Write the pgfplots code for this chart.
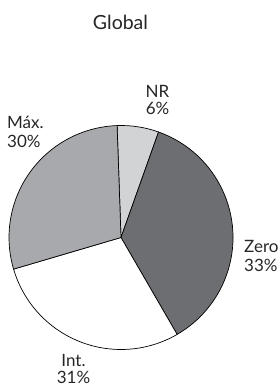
\documentclass[border=0pt]{standalone}
\usepackage{pgfplots}
\pgfplotsset{compat=1.18}
\usepackage{fontspec}
\setmainfont{Lato}
\definecolor{nrc}{HTML}{D1D3D4}
\definecolor{zeroc}{HTML}{6D6E71}
\definecolor{intc}{HTML}{FFFFFF}
\definecolor{maxc}{HTML}{A7A9AC}
% shares of the circle as drawn (%), labels as printed
\def\pNR{6.0}\def\pZero{36.2}\def\pInt{28.8}\def\pMax{29.0}
\pgfmathsetmacro\aA{92}
\pgfmathsetmacro\aB{\aA-3.6*\pNR}
\pgfmathsetmacro\aC{\aB-3.6*\pZero}
\pgfmathsetmacro\aD{\aC-3.6*\pInt}
\pgfmathsetmacro\aE{\aD-3.6*\pMax}
\begin{document}
\begin{tikzpicture}
\begin{axis}[name=ax, x=1pt, y=1pt, xmin=0, xmax=280, ymin=0, ymax=388,
  hide axis, scale only axis, clip=false]
\addplot[draw=none] coordinates {(121,150.5)};
\filldraw[fill=nrc, draw=black, line width=0.7pt, line join=round] (axis cs:121,150.5) -- ++(\aA:112pt) arc[start angle=\aA, end angle=\aB, radius=112pt] -- cycle;
\filldraw[fill=zeroc, draw=black, line width=0.7pt, line join=round] (axis cs:121,150.5) -- ++(\aB:112pt) arc[start angle=\aB, end angle=\aC, radius=112pt] -- cycle;
\filldraw[fill=intc, draw=black, line width=0.7pt, line join=round] (axis cs:121,150.5) -- ++(\aC:112pt) arc[start angle=\aC, end angle=\aD, radius=112pt] -- cycle;
\filldraw[fill=maxc, draw=black, line width=0.7pt, line join=round] (axis cs:121,150.5) -- ++(\aD:112pt) arc[start angle=\aD, end angle=\aE, radius=112pt] -- cycle;
\node[anchor=base, font=\fontsize{19.5}{22}\selectfont, text=black!85, inner sep=0pt] at (axis cs:120.5,358) {Global};
\begin{scope}[every node/.style={font=\fontsize{17}{19}\selectfont, text=black!85, inner sep=0pt}]
\node[anchor=base] at (axis cs:157.5,290) {NR};
\node[anchor=base] at (axis cs:157.5,273) {6\%};
\node[anchor=base west] at (axis cs:7,259) {Máx.};
\node[anchor=base west] at (axis cs:7,240) {30\%};
\node[anchor=base west] at (axis cs:244,135) {Zero};
\node[anchor=base west] at (axis cs:244,116) {33\%};
\node[anchor=base] at (axis cs:73.5,21.5) {Int.};
\node[anchor=base] at (axis cs:73.5,4.5) {31\%};
\end{scope}
\end{axis}
\pgfresetboundingbox
\useasboundingbox (ax.south west) rectangle (ax.north east);
\end{tikzpicture}
\end{document}
